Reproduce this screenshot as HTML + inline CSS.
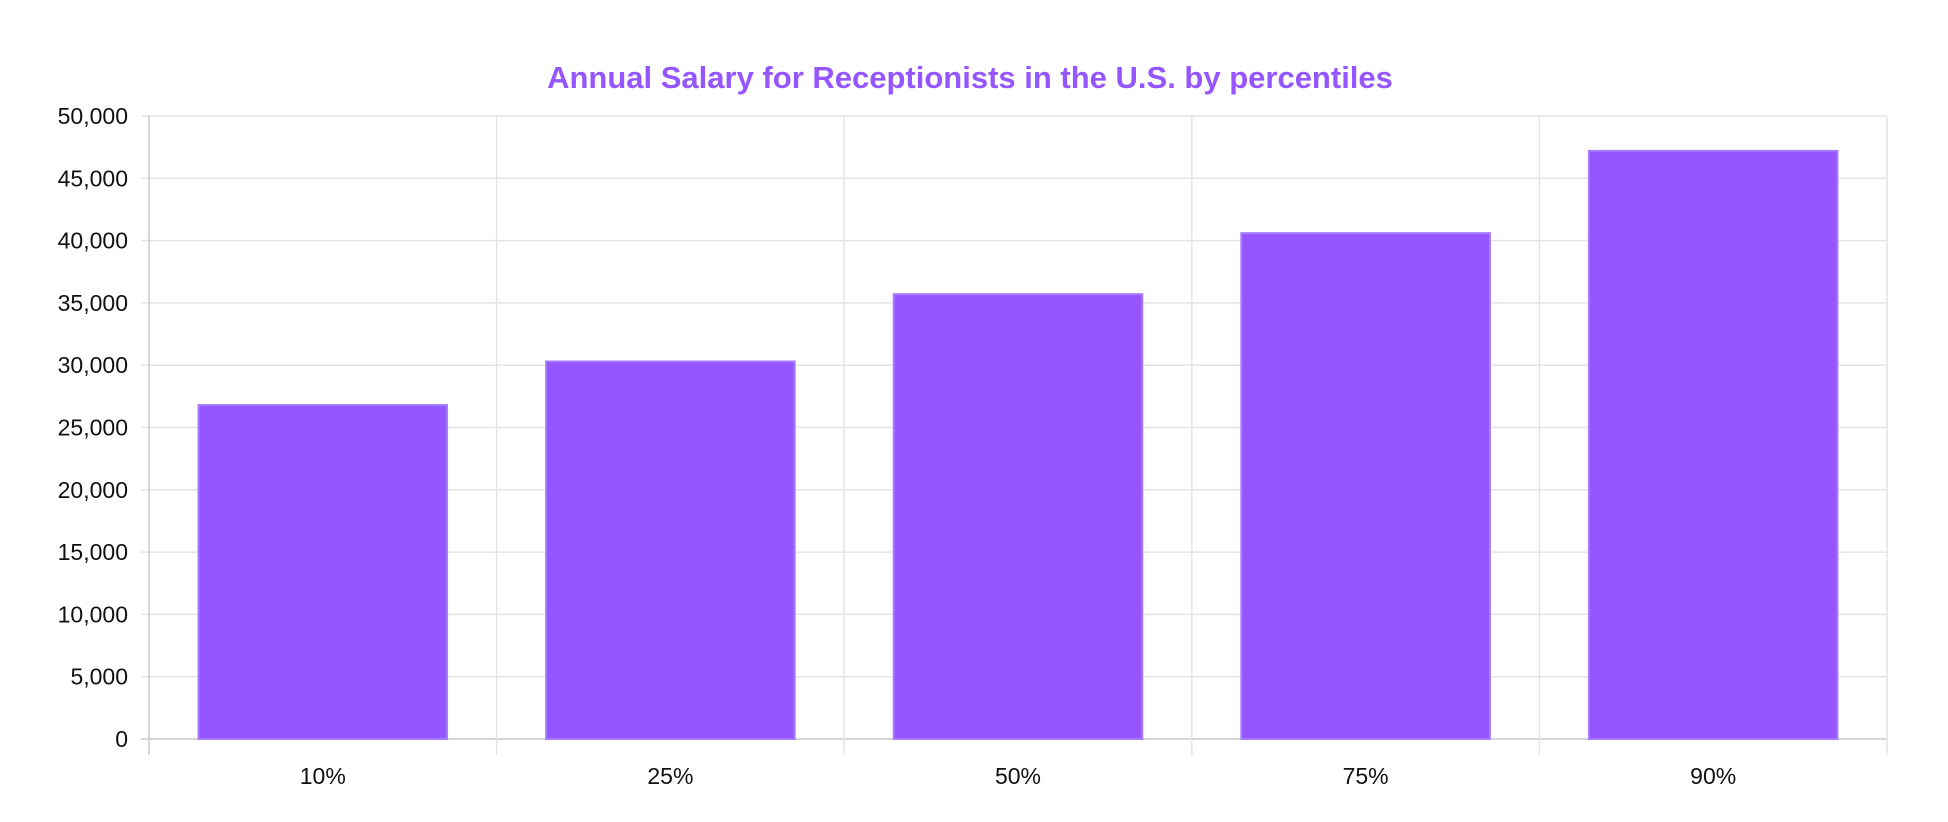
<!DOCTYPE html>
<html><head><meta charset="utf-8"><style>
html,body{margin:0;padding:0;background:#fff;}
svg{display:block;font-family:"Liberation Sans",Arial,sans-serif;}
</style></head><body>
<svg id="chart" width="1948" height="822">
<text x="970" y="88" text-anchor="middle" font-size="31" font-weight="bold" fill="#9656ff">Annual Salary for Receptionists in the U.S. by percentiles</text>
<g id="grid"></g><g id="bars"></g><g id="labels"></g>
</svg>
<script>
const categories = ["10%","25%","50%","75%","90%"];
const salaries = [26800, 30300, 35700, 40600, 47200];
const yTicks = [0,5000,10000,15000,20000,25000,30000,35000,40000,45000,50000];
const yMax = 50000;
const L=149, R=1887, T=116, B=739;
const NS="http://www.w3.org/2000/svg";
const bw=(R-L)/categories.length;
function y(v){return B-(v/yMax)*(B-T);}
function x(i){return L+bw*i;}
function mk(tag,attrs,parent){const e=document.createElementNS(NS,tag);for(const k in attrs)e.setAttribute(k,attrs[k]);parent.appendChild(e);return e;}
const grid=document.getElementById('grid'),bars=document.getElementById('bars'),labels=document.getElementById('labels');
yTicks.forEach(t=>{
  const ln=mk('line',{x1:L-8,x2:R,y1:y(t),y2:y(t),stroke:t===0?'#c8c8c8':'#e4e4e4','stroke-width':1.5},grid);
  
  
  const tx=mk('text',{x:L-21,y:y(t)+8,'text-anchor':'end','font-size':23,fill:'#111'},labels);
  tx.textContent=t.toLocaleString('en-US');
  
  
});
for(let i=0;i<=categories.length;i++){
  const ln=mk('line',{x1:x(i),x2:x(i),y1:T,y2:B+16,stroke:i===0?'#c8c8c8':'#e4e4e4','stroke-width':1.5},grid);
  
  
}
categories.forEach((c,i)=>{
  const w=bw*0.715, bx=x(i)+(bw-w)/2;
  const r=mk('rect',{x:bx,y:y(salaries[i]),width:w,height:B-y(salaries[i]),fill:'#9656ff',stroke:'#a67aff','stroke-width':2},bars);
  
  
  const tx=mk('text',{x:x(i)+bw/2,y:784,'text-anchor':'middle','font-size':23,fill:'#111'},labels);
  tx.textContent=c;
  
  
});
</script>
</body></html>
